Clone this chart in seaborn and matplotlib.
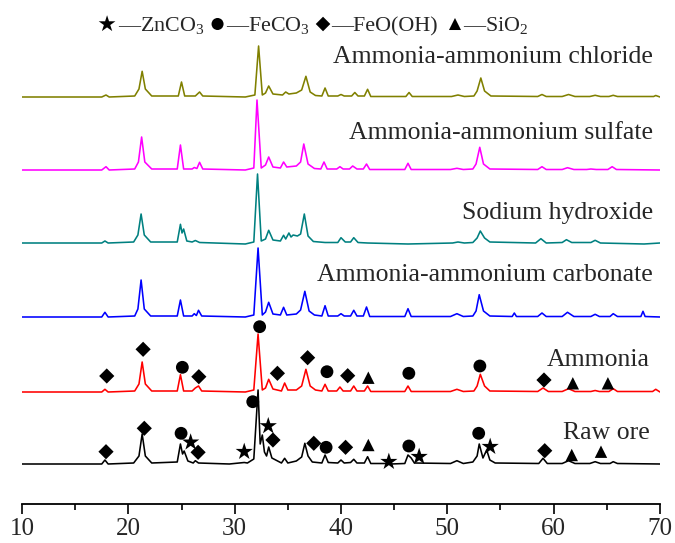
import matplotlib
matplotlib.use("Agg")
import matplotlib.pyplot as plt
import seaborn as sns
import pandas as pd

# ---------------- data (2theta, intensity above each pattern's own baseline) ----------------
raw_ore = [(10,0),(17.5,0),(17.8,4),(18.1,0),(20.5,1),(21.0,8),(21.3,30),(21.6,8),(22.2,1),
           (24.6,2),(24.9,20),(25.1,10),(25.25,13),(25.6,3),(26.1,1),(26.3,3.3),(26.6,1),
           (29.5,0),(30.9,1.5),(31.2,1),(31.8,5),(32.2,74),(32.4,20),(32.6,29),(32.8,12),
           (33.0,8),(33.2,17),(33.5,6),(34.4,1),(34.7,5.7),(35.0,1),(35.8,3),(36.3,7),
           (36.6,20.7),(36.9,8),(37.3,2),(38.2,1),(38.5,9),(38.8,1.5),(39.7,1),(40.0,4),
           (40.3,1),(40.9,1.5),(41.2,4.7),(41.5,1),(42.2,1),(42.5,7.3),(42.8,0.5),(44.3,0.5),
           (44.5,1.5),(44.7,0),(46.0,0.5),(46.3,9),(46.6,6),(46.9,1),(50.3,0.5),(50.9,3.3),
           (51.5,0.5),(52.4,2),(52.8,8),(53.0,20),(53.35,6),(53.7,14),(54.0,4),(54.5,1),
           (58.6,0.5),(59.0,5.7),(59.4,0.5),(60.8,0.5),(61.4,3.3),(62.0,0.5),(63.4,0.5),
           (63.9,2.3),(64.4,0.5),(65.3,0.5),(65.6,2.3),(66.0,0.5),(70,0)]

ammonia = [(10,0),(17.5,0),(17.8,2.7),(18.1,0),(20.6,1),(21.0,8),(21.3,30),(21.6,8),(22.2,1),
           (24.6,1),(24.9,17.3),(25.2,1),(26.0,1),(26.3,4),(26.6,6),(26.9,1),(31.0,0),(31.8,2),
           (32.2,58),(32.6,2),(32.9,4),(33.2,12.7),(33.6,3),(34.4,1),(34.7,9),(35.0,2),(35.8,2),
           (36.3,6),(36.7,22.7),(37.1,6),(37.6,2),(38.2,1),(38.5,7.7),(38.8,1),(39.6,1),(39.9,5),
           (40.2,1),(40.9,1),(41.2,6),(41.5,1),(42.2,1),(42.5,6),(42.8,0.5),(46.0,0.5),(46.3,6),
           (46.6,0.5),(50.3,0.5),(50.9,2.7),(51.5,0.5),(52.5,1),(52.8,6),(53.1,17.7),(53.5,6),
           (54.0,1),(58.5,0.5),(59.0,4),(59.5,0.5),(60.8,0.5),(61.4,3.3),(62.0,0.5),(63.5,0.5),
           (63.9,1.5),(64.3,0.5),(65.2,0.5),(65.6,3.3),(66.0,0.5),(69.3,0.5),(69.6,2.7),(70,0)]

carbonate = [(10,0),(17.5,0),(17.8,4.7),(18.1,0),(20.6,1),(20.9,8),(21.2,37),(21.5,8),(22.1,1),
             (24.6,1),(24.9,17),(25.2,1),(26.0,1),(26.2,3.3),(26.4,1.5),(26.6,6.7),(26.9,1),
             (31.0,0),(31.8,2),(32.2,69),(32.6,2),(32.9,5),(33.2,14.7),(33.6,3),(34.3,2),
             (34.6,9.7),(34.9,2),(35.8,3),(36.2,7),(36.6,25.7),(37.0,6),(37.5,2),(38.2,1),
             (38.5,11.3),(38.8,1),(39.7,1),(40.0,3.3),(40.3,1),(40.9,1),(41.2,6.7),(41.5,1),
             (42.1,1),(42.4,10),(42.7,0.5),(46.0,0.5),(46.3,8.3),(46.6,0.5),(50.3,0.5),
             (50.9,3.3),(51.5,0.5),(52.4,1),(52.7,6),(53.0,22.3),(53.4,6),(54.0,1),(56.1,0.5),
             (56.3,4),(56.5,0.5),(58.5,0.5),(58.9,4),(59.3,0.5),(60.8,0.5),(61.3,4.7),(61.9,0.5),
             (63.5,0.5),(63.9,2.7),(64.3,0.5),(65.3,0.5),(65.6,3.3),(66.0,0.5),(68.2,0.5),
             (68.4,5.7),(68.6,0.5),(70,0)]

hydroxide = [(10,0),(17.5,0),(17.8,2),(18.1,0),(20.5,1),(20.9,8),(21.2,29),(21.5,8),(22.1,1),
             (24.6,1),(24.9,18.7),(25.05,10),(25.2,14),(25.5,2),(26.0,1),(26.3,2.5),(26.7,0.5),
             (31.0,-1),(31.8,1),(32.15,69),(32.5,2),(32.9,4),(33.2,12.7),(33.6,3),(34.3,2),
             (34.6,7.7),(34.8,4),(35.1,10),(35.3,6),(35.5,8),(35.9,7),(36.2,9),(36.55,29),
             (36.9,7),(37.4,1.5),(38.5,0.5),(39.7,0.5),(40.0,5.3),(40.4,1),(40.9,1),(41.2,5.3),
             (41.6,0.5),(42.5,0),(46.3,-1),(50.5,0),(51.0,1),(51.6,0),(52.4,0.5),(52.8,5),
             (53.1,12),(53.5,5),(54.0,1),(58.3,0),(58.8,4.3),(59.3,0),(60.8,0.5),(61.2,3.3),
             (61.7,0.5),(63.5,0.5),(63.9,2.7),(64.4,0),(68.5,-1),(70,0)]

sulfate = [(10,0),(17.5,0),(17.9,3.3),(18.2,0),(20.6,1),(20.95,8),(21.25,33),(21.55,8),(22.2,1),
           (24.6,1),(24.9,25),(25.2,1),(26.0,1),(26.2,2.5),(26.45,1.5),(26.7,7.7),(27.0,1),
           (31.0,0),(31.8,2),(32.1,70),(32.5,2),(32.9,5),(33.2,13),(33.6,3),(34.3,2),(34.6,8),
           (34.9,3),(35.8,4),(36.2,8),(36.5,26),(36.9,6),(37.5,1.5),(38.1,1),(38.4,8),(38.7,1),
           (39.6,1),(39.9,3.3),(40.2,1),(40.8,1),(41.1,4),(41.5,1),(42.1,1),(42.4,6),(42.7,0.5),
           (46.0,0.5),(46.3,6.7),(46.6,0.5),(50.3,0.5),(50.9,1.7),(51.5,0.5),(52.4,1),(52.7,6),
           (53.05,22.7),(53.4,6),(54.0,1),(58.5,0.5),(58.9,3.3),(59.3,0.5),(60.8,0.5),(61.3,2.3),
           (61.9,0.5),(63.1,0.5),(63.5,1),(64.0,0.5),(65.1,0.5),(65.5,3.3),(65.9,0.5),(70,0)]

chloride = [(10,0),(17.5,0),(17.9,2),(18.2,0),(20.6,1),(21.0,8),(21.3,25.7),(21.6,8),(22.2,1),
            (24.7,1),(25.0,15),(25.3,1),(26.3,1),(26.7,5),(27.0,1),(31.0,0),(31.9,2),(32.25,51),
            (32.6,2),(32.9,4),(33.2,11),(33.6,3),(34.5,2),(34.8,5),(35.1,3),(35.8,4),(36.3,7),
            (36.7,20.7),(37.1,5),(37.6,1.5),(38.2,1),(38.5,9),(38.8,1),(39.7,1),(40.0,2.5),
            (40.3,1),(41.0,1),(41.3,4.5),(41.6,1),(42.2,1),(42.5,7.7),(42.8,0.5),(46.1,0.5),
            (46.4,4.5),(46.7,0.5),(50.4,0.5),(51.0,2),(51.6,0.5),(52.5,1),(52.8,6),(53.15,19),
            (53.5,6),(54.1,1),(58.5,0.5),(58.9,2.5),(59.3,0.5),(60.8,0.5),(61.4,2.5),(62.0,0.5),
            (63.4,0.5),(63.9,1.7),(64.4,0.5),(65.2,0.5),(65.6,1.7),(66.0,0.5),(69.4,0.5),
            (69.6,1.5),(70,0)]

series_names = ["Raw ore", "Ammonia", "Ammonia-ammonium carbonate", "Sodium hydroxide",
                "Ammonia-ammonium sulfate", "Ammonia-ammonium chloride"]
series_data = [raw_ore, ammonia, carbonate, hydroxide, sulfate, chloride]
series_offsets = [40, 112, 187, 261, 334, 407]
series_colors = ["#000000", "#FF0000", "#0000FF", "#008080", "#FF00FF", "#808000"]
label_y = [71, 144, 229, 291, 371, 447]

# phase markers (2theta, absolute height)
ammonia_diamond_x = [17.97, 21.39, 26.63, 34.02, 36.86, 40.63, 59.09]
ammonia_diamond_y = [128, 154.7, 127.3, 130.7, 146.3, 128.3, 124]
ammonia_circle_x = [25.08, 32.35, 38.68, 46.38, 53.06]
ammonia_circle_y = [136.7, 177.3, 132.3, 130.7, 138]
ammonia_triangle_x = [42.57, 61.8, 65.1]
ammonia_triangle_y = [126.3, 120.7, 120.7]

raw_diamond_x = [17.9, 21.5, 26.56, 33.6, 37.44, 40.43, 59.16]
raw_diamond_y = [52.3, 75.7, 51.7, 64, 60.7, 56.7, 53.3]
raw_circle_x = [24.96, 31.7, 38.6, 46.38, 52.95]
raw_circle_y = [70.7, 102.3, 56.7, 58, 70.7]
raw_star_x = [25.86, 30.9, 33.16, 44.5, 47.35, 54.03]
raw_star_y = [61.7, 52.3, 78, 42.3, 47.3, 57.3]
raw_triangle_x = [42.57, 61.7, 64.45]
raw_triangle_y = [59, 49, 52.3]

legend_marker_x = [18.0, 28.39, 38.31, 50.72]
legend_labels = ["—ZnCO$_3$", "—FeCO$_3$", "—FeO(OH)", "—SiO$_2$"]
legend_text_x = [19.0, 29.15, 39.05, 51.45]

# ---------------- style ----------------
sns.set_theme(style="white")
plt.rcParams["font.family"] = ["Liberation Serif", "DejaVu Serif"]
plt.rcParams["mathtext.fontset"] = "custom"
plt.rcParams["mathtext.rm"] = "Liberation Serif"
plt.rcParams["mathtext.it"] = "Liberation Serif:italic"
plt.rcParams["mathtext.bf"] = "Liberation Serif:bold"

fig = plt.figure(figsize=(6.75, 5.43), dpi=100)
ax = fig.add_axes([22 / 675, 39 / 543, 638 / 675, 504 / 543])

for name, data, off, col in zip(series_names, series_data, series_offsets, series_colors):
    df = pd.DataFrame(data, columns=["two_theta", "intensity"])
    df["y"] = df["intensity"] + off
    sns.lineplot(data=df, x="two_theta", y="y", color=col, linewidth=1.15, ax=ax,
                 sort=False, estimator=None)

mk = dict(color="black", edgecolor="none", ax=ax, zorder=5, legend=False)
sns.scatterplot(x=ammonia_diamond_x + raw_diamond_x, y=ammonia_diamond_y + raw_diamond_y,
                marker="D", s=60, **mk)
sns.scatterplot(x=ammonia_circle_x + raw_circle_x, y=ammonia_circle_y + raw_circle_y,
                marker="o", s=85, **mk)
sns.scatterplot(x=ammonia_triangle_x + raw_triangle_x, y=ammonia_triangle_y + raw_triangle_y,
                marker="^", s=80, **mk)
sns.scatterplot(x=raw_star_x, y=raw_star_y, marker="*", s=170, **mk)

# legend row
leg_markers = ["*", "o", "D", "^"]
leg_sizes = [160, 75, 55, 75]
for mx, m, s in zip(legend_marker_x, leg_markers, leg_sizes):
    ax.scatter([mx], [480], marker=m, s=s, color="black", edgecolor="none", clip_on=False)
for tx, lab in zip(legend_text_x, legend_labels):
    ax.text(tx, 473, lab, fontsize=15.8, ha="left", va="baseline")

for name, ly in zip(series_names, label_y):
    xr = 69.0 if name in ("Ammonia", "Raw ore") else 69.34
    ax.text(xr, ly, name, fontsize=18.5, ha="right", va="center")

ax.set_xlim(10, 70)
ax.set_ylim(0, 504)
ax.set_xticks([10, 20, 30, 40, 50, 60, 70])
ax.set_xticks([15, 25, 35, 45, 55, 65], minor=True)
ax.set_yticks([])
ax.set_xlabel("")
ax.set_ylabel("")
for sp in ["top", "left", "right"]:
    ax.spines[sp].set_visible(False)
ax.spines["bottom"].set_color("black")
ax.spines["bottom"].set_linewidth(1.3)
ax.tick_params(axis="x", which="major", direction="out", length=7, width=1.2,
               color="black", labelsize=18, pad=3, bottom=True)
ax.tick_params(axis="x", which="minor", direction="out", length=4, width=1.2,
               color="black", bottom=True)
ax.patch.set_alpha(0)

fig.savefig("out.png", dpi=100)
